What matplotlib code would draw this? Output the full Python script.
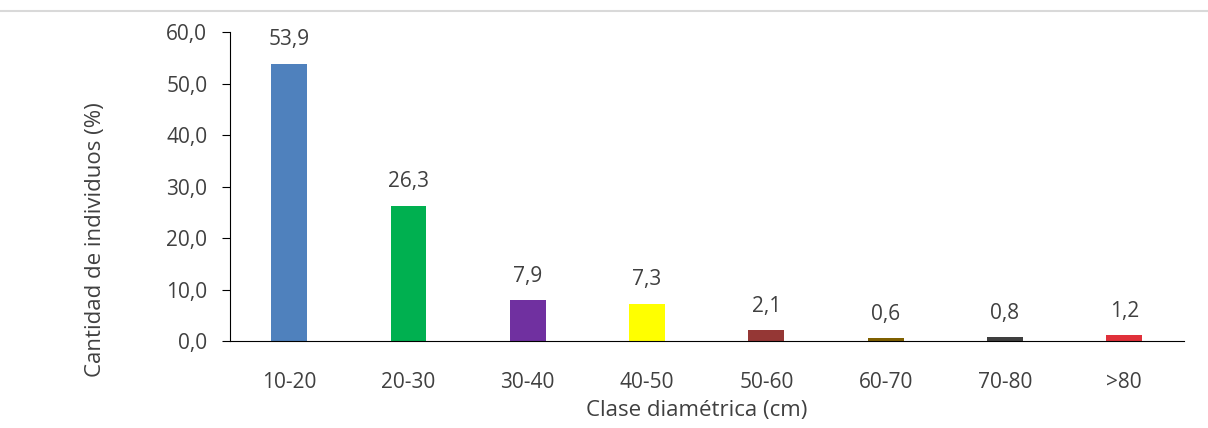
import matplotlib.pyplot as plt
from matplotlib.lines import Line2D

# datos
clases = ["10-20", "20-30", "30-40", "40-50", "50-60", "60-70", "70-80", ">80"]
porcentajes = [53.9, 26.3, 7.9, 7.3, 2.1, 0.6, 0.8, 1.2]
colores = ["#4F81BD", "#00B050", "#7030A0", "#FFFF00", "#953735",
           "#7F6000", "#3F3F3F", "#E0303A"]

GRIS = "#404040"
TAM = 15
plt.rcParams["font.family"] = ["Open Sans", "DejaVu Sans"]

fig = plt.figure(figsize=(12.08, 4.28), dpi=100)
ax = fig.add_axes([0.190, 0.203, 0.790, 0.722])

x = range(len(clases))
ax.bar(x, porcentajes, width=0.30, color=colores)

for xi, v in zip(x, porcentajes):
    ax.text(xi, v + 2.6, f"{v:.1f}".replace(".", ","), ha="center", va="bottom",
            fontsize=TAM, color=GRIS)

ax.set_xlim(-0.5, 7.5)
ax.set_ylim(0, 60)
ax.set_yticks(range(0, 61, 10))
ax.set_yticklabels([f"{t},0" for t in range(0, 61, 10)])
ax.set_xticks(list(x))
ax.set_xticklabels(clases)

ax.spines["top"].set_visible(False)
ax.spines["right"].set_visible(False)
ax.tick_params(axis="x", length=0, pad=22, labelsize=TAM, labelcolor=GRIS)
ax.tick_params(axis="y", length=6, pad=10, labelsize=TAM, labelcolor=GRIS)

ax.set_ylabel("Cantidad de individuos (%)", fontsize=16, color=GRIS)
ax.yaxis.set_label_coords(-0.140, 0.33)
ax.set_xlabel("Clase diamétrica (cm)", fontsize=16, color=GRIS)
ax.xaxis.set_label_coords(0.49, -0.226)
ax.xaxis.label.set_va("center")
ax.yaxis.label.set_va("center")

# linea gris superior del marco
fig.add_artist(Line2D([0, 1], [0.975, 0.975], color="#D9D9D9", lw=1.5,
                      transform=fig.transFigure))

fig.savefig("out.png", dpi=100)
